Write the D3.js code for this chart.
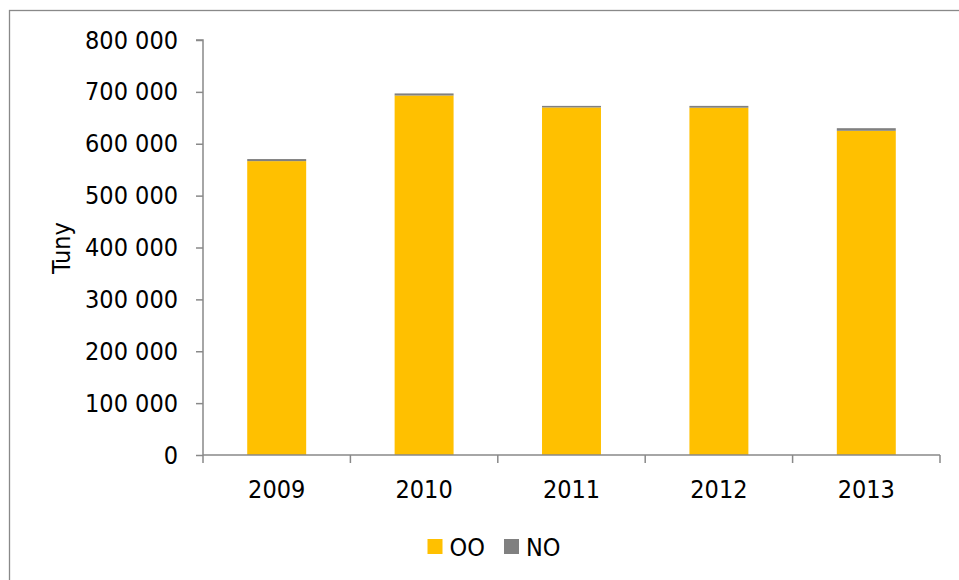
<!DOCTYPE html>
<html><head><meta charset="utf-8">
<script src="https://cdn.jsdelivr.net/npm/d3@7"></script>
<style>
html,body{margin:0;padding:0;background:#fff;}
svg{display:block;}
text{font-family:"DejaVu Sans Condensed","DejaVu Sans",sans-serif;font-stretch:condensed;fill:#000;}
</style></head>
<body>
<svg id="chart" width="959" height="580"></svg>
<script>
const categories = ["2009","2010","2011","2012","2013"];
const seriesNames = ["OO","NO"];
const valuesOO = [566500, 693000, 670000, 669500, 625000];
const valuesNO = [4000, 4000, 3000, 3500, 5000];
const yTicks = [0,100000,200000,300000,400000,500000,600000,700000,800000];
const colors = ["#FFC000","#808080"];

const svg = d3.select("#chart");
// outer frame
svg.append("rect").attr("x",9.5).attr("y",10.5).attr("width",960).attr("height",580)
  .attr("fill","none").attr("stroke","#898989").attr("stroke-width",1.3);

const pL=203, pR=940, pT=40, pB=455;
const x = d3.scaleBand().domain(categories).range([pL,pR]).paddingInner(0.6).paddingOuter(0.3);
const y = d3.scaleLinear().domain([0,800000]).range([pB,pT]);

const data = categories.map((c,i)=>({cat:c, OO:valuesOO[i], NO:valuesNO[i]}));
const stacked = d3.stack().keys(seriesNames)(data);

svg.append("g").selectAll("g").data(stacked).join("g")
  .attr("fill",(d,i)=>colors[i])
  .selectAll("rect").data(d=>d).join("rect")
  .attr("x",d=>x(d.data.cat))
  .attr("width",x.bandwidth())
  .attr("y",d=>y(d[1]))
  .attr("height",d=>y(d[0])-y(d[1]));

const fmt = v => d3.format(",")(v).replace(/,/g," ");

// y axis
const ya = svg.append("g").attr("transform",`translate(${pL},0)`)
  .call(d3.axisLeft(y).tickValues(yTicks).tickFormat(fmt).tickSize(7).tickPadding(18));
ya.select(".domain").attr("stroke","#898989").attr("stroke-width",1.5).attr("d",`M-7,${pT}H0V${pB}`);
ya.selectAll(".tick line").attr("stroke","#898989").attr("stroke-width",1.5);
ya.selectAll(".tick text").attr("font-size",25).attr("font-family",null).attr("fill","#000");

// x axis
const xa = svg.append("g").attr("transform",`translate(0,${pB})`)
  .call(d3.axisBottom(x).tickSize(0).tickPadding(25));
xa.select(".domain").attr("stroke","#898989").attr("stroke-width",1.5).attr("d",`M${pL},0H${pR}`);
xa.selectAll(".tick text").attr("font-size",25).attr("font-family",null).attr("fill","#000");
const bounds = d3.range(categories.length+1).map(i=>pL + i*((pR-pL)/categories.length));
xa.selectAll("line.sep").data(bounds).join("line").attr("class","sep")
  .attr("x1",d=>d).attr("x2",d=>d).attr("y1",0).attr("y2",8)
  .attr("stroke","#898989").attr("stroke-width",1.5);

// y title
svg.append("text").attr("transform","translate(70,248) rotate(-90)")
  .attr("text-anchor","middle").attr("font-size",25).text("Tuny");

// legend
const legend = svg.append("g");
const legItems = [{name:seriesNames[0],x:427.5},{name:seriesNames[1],x:504}];
legItems.forEach((it,i)=>{
  legend.append("rect").attr("x",it.x).attr("y",539).attr("width",15).attr("height",15).attr("fill",colors[i]);
  legend.append("text").attr("x",it.x+22).attr("y",556).attr("font-size",25).text(it.name);
});
</script>
</body></html>
